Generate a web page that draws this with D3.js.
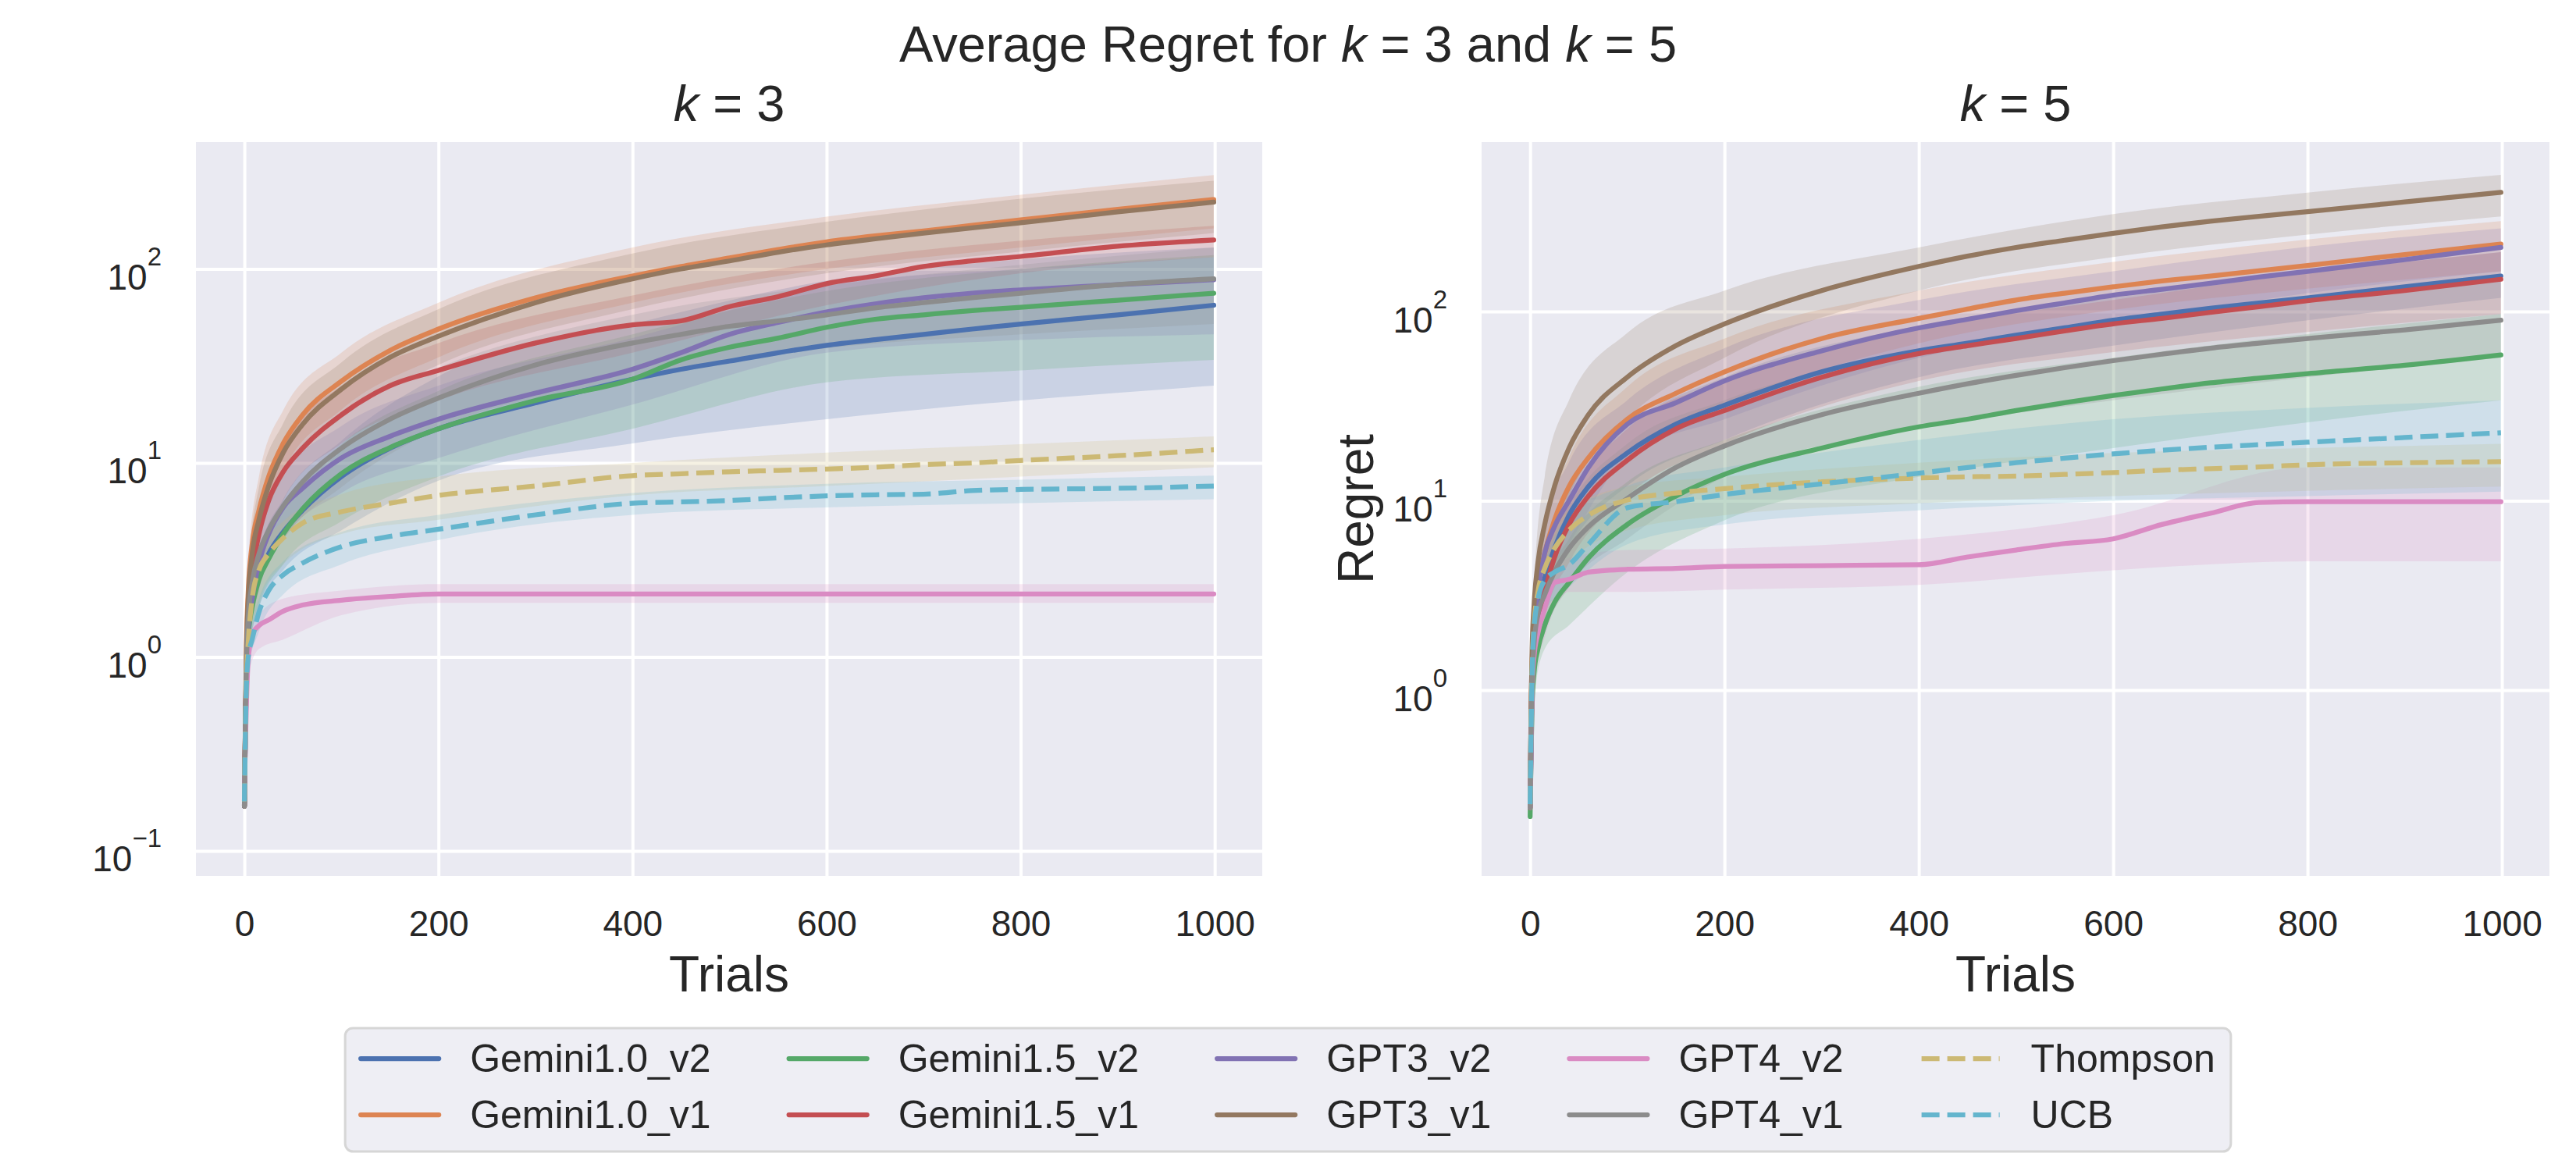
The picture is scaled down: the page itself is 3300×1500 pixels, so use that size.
<!DOCTYPE html>
<html>
<head>
<meta charset="utf-8">
<script src="https://cdn.jsdelivr.net/npm/d3@7/dist/d3.min.js"></script>
<style>
  body { margin: 0; background: #fff; }
  text { font-family: "Liberation Sans", Arial, sans-serif; fill: #262626; }
</style>
</head>
<body>
<div id="chart"></div>
<script>
// legend order = plotting order
const seriesNames = ['Gemini1.0_v2', 'Gemini1.0_v1', 'Gemini1.5_v2', 'Gemini1.5_v1', 'GPT3_v2',
  'GPT3_v1', 'GPT4_v2', 'GPT4_v1', 'Thompson', 'UCB']

const trials = [0, 1, 2, 4, 8, 15, 25, 40, 60, 100, 150, 200, 300, 400, 450, 500, 550, 600, 650, 700, 750, 800, 900, 999]
const bandTrials = [0, 4, 15, 40, 100, 200, 400, 600, 800, 999]
const xTicks = [0, 200, 400, 600, 800, 1000]
const k3YTicks = [0.1, 1, 10, 100]
const k5YTicks = [1, 10, 100]

// k = 3, mean regret per series (on trials)
const k3Means = [
  [0.17, 0.42, 0.74, 1.3, 1.9, 2.6, 3.4, 4.4, 5.7, 8.5, 11.9, 15, 20.4, 27, 30.4, 33.5, 37, 40.4, 43.2, 46, 49, 52, 58, 65],
  [0.18, 0.47, 1.1, 2.2, 3.8, 5.7, 8.5, 12.6, 17.7, 26.4, 38, 49, 71, 92, 103, 114, 126, 138, 148, 157, 168, 179, 203, 228],
  [0.17, 0.42, 0.74, 1.3, 1.8, 2.5, 3.2, 4.3, 5.8, 8.8, 12, 15, 21, 27, 34, 39.5, 44, 50, 55, 58, 61, 63.5, 69, 75],
  [0.17, 0.45, 0.85, 1.6, 2.7, 4.3, 6.4, 9, 11.9, 17.7, 25, 30, 41.5, 51.5, 54, 64, 72, 84, 92, 103, 110, 116, 131, 141],
  [0.17, 0.42, 0.8, 1.4, 2, 3.05, 4.3, 5.9, 7.4, 10.6, 13.7, 16.8, 22.9, 30.4, 37, 46, 53, 60, 66, 71, 75, 78, 83, 88],
  [0.17, 0.45, 1, 2, 3.4, 5.1, 7.6, 11.3, 15.8, 24, 35, 45, 67, 89, 100, 110, 122, 133, 143, 153, 163, 173, 197, 221],
  [0.19, 0.35, 0.55, 0.98, 1.3, 1.45, 1.55, 1.72, 1.85, 1.96, 2.05, 2.11, 2.11, 2.11, 2.11, 2.11, 2.11, 2.11, 2.11, 2.11, 2.11, 2.11, 2.11, 2.11],
  [0.17, 0.45, 0.85, 1.6, 2.4, 3.4, 4.5, 6, 8, 11.9, 16.8, 21.6, 32, 41.5, 46, 50.6, 54, 58, 63, 67, 71, 75, 83, 89],
  [0.18, 0.42, 0.75, 1.2, 2, 2.8, 3.4, 4.1, 4.9, 5.6, 6.2, 6.8, 7.6, 8.6, 8.8, 9, 9.15, 9.3, 9.5, 9.8, 10, 10.3, 10.9, 11.7],
  [0.18, 0.4, 0.7, 1, 1.23, 1.7, 2.2, 2.65, 3.05, 3.7, 4.18, 4.55, 5.4, 6.2, 6.3, 6.4, 6.6, 6.76, 6.85, 6.9, 7.2, 7.3, 7.4, 7.6],
]
// k = 3, band low / high (on bandTrials)
const k3Low = [
  [0.16, 1, 1.8, 2.8, 4.5, 8.1, 12.6, 16.8, 21, 25],
  [0.17, 1.7, 3.8, 9, 18.8, 35, 67, 100, 129, 162],
  [0.16, 1, 1.8, 3, 5, 8.5, 15, 26, 30, 34],
  [0.16, 1.1, 3.05, 6.4, 12.6, 21, 37, 65, 95, 115],
  [0.16, 1.1, 2.2, 4, 7, 10.6, 20, 37, 43, 46],
  [0.16, 1.5, 3.6, 8.5, 17, 32, 62, 95, 123, 153],
  [0.17, 0.8, 1.1, 1.23, 1.64, 1.9, 1.9, 1.9, 1.9, 1.9],
  [0.16, 1.2, 2.4, 4, 7.5, 15, 26.4, 39, 46, 52],
  [0.17, 1, 1.9, 3, 4.3, 5.1, 6.8, 7.6, 8.5, 9.5],
  [0.17, 0.85, 1.35, 2.1, 3, 4, 5.4, 5.9, 6.2, 6.5],
]
const k3High = [
  [0.18, 1.6, 3.4, 6.5, 13, 28, 52, 87, 112, 129],
  [0.2, 3.05, 8.5, 18.7, 37, 67, 129, 186, 241, 305],
  [0.18, 1.6, 3.3, 6, 12.5, 23.5, 46, 77, 100, 118],
  [0.18, 2.3, 6, 12.6, 25, 41.5, 73, 109, 140, 167],
  [0.18, 1.8, 4.2, 8.5, 15.5, 25, 44, 82, 100, 115],
  [0.2, 2.7, 7.5, 16, 33, 62, 120, 175, 230, 285],
  [0.21, 1.2, 1.65, 2, 2.2, 2.37, 2.37, 2.37, 2.37, 2.37],
  [0.18, 2.1, 4.8, 9, 18, 31, 58, 82, 105, 129],
  [0.19, 1.5, 3.3, 5, 6.9, 8.5, 10, 11.3, 12.5, 13.7],
  [0.19, 1.2, 2, 3.1, 4.4, 5.4, 7, 7.8, 8.2, 8.6],
]

// k = 5
const k5Means = [
  [0.25, 0.74, 1.23, 1.85, 2.8, 3.9, 5.6, 8.4, 11.9, 17.9, 25.4, 32, 48, 62, 68, 75, 82, 90, 97, 104, 111, 118, 135, 154],
  [0.25, 0.82, 1.38, 2.2, 3.5, 5.3, 7.9, 11.9, 16.9, 27, 37, 48, 72, 92, 103, 115, 125, 135, 145, 154, 164, 175, 200, 227],
  [0.215, 0.46, 0.82, 1.23, 1.65, 2.2, 2.9, 3.7, 5, 7.5, 10.6, 13.8, 19, 24.6, 27, 30, 33, 36, 39, 42, 44.5, 47, 52, 59],
  [0.24, 0.6, 1.03, 1.56, 2.3, 3.3, 5, 7.5, 10.6, 16.4, 24, 30, 45, 60, 66, 72, 79, 86, 92, 99, 106, 114, 129, 148],
  [0.24, 0.46, 1.1, 2.1, 3.3, 5.3, 7.3, 10, 15, 25.4, 33, 43, 62, 82, 91, 101, 111, 122, 131, 141, 152, 163, 188, 218],
  [0.24, 0.82, 1.65, 2.8, 4.7, 7.5, 11.9, 19, 28.5, 45, 66, 86, 129, 173, 196, 218, 238, 259, 280, 300, 318, 337, 379, 426],
  [0.24, 0.5, 0.98, 1.5, 2, 2.7, 3.7, 3.85, 4.2, 4.35, 4.4, 4.5, 4.55, 4.6, 5.05, 5.5, 5.95, 6.3, 7.5, 8.6, 9.8, 9.9, 9.9, 9.9],
  [0.24, 0.55, 1.1, 1.75, 2.5, 3.2, 4.2, 5.6, 7.3, 10.3, 15, 19.5, 28.5, 37, 41.5, 46, 50.5, 55, 59.5, 64, 68, 72, 80, 90],
  [0.25, 0.7, 1.3, 2.2, 3.3, 4.4, 5.6, 7, 8.4, 10.1, 11, 11.6, 12.6, 13.2, 13.4, 13.5, 13.8, 14.1, 14.5, 14.8, 15.1, 15.5, 15.9, 16.1],
  [0.25, 0.6, 1.2, 2.1, 3, 3.8, 4.2, 4.6, 5.9, 9.2, 9.9, 10.8, 12.3, 14, 15, 15.9, 16.8, 17.7, 18.5, 19.2, 19.8, 20.4, 21.6, 22.9],
]
const k5Low = [
  [0.23, 1.5, 2.9, 5.6, 12, 21, 45, 66, 90, 118],
  [0.23, 1.7, 3.5, 7.9, 18, 32, 68, 102, 132, 163],
  [0.2, 0.9, 1.65, 2.2, 4.2, 7.9, 13.4, 19, 26, 34],
  [0.22, 1.2, 2.4, 4.7, 10.6, 20, 43, 61, 78, 97],
  [0.22, 1.5, 3.5, 5.9, 17, 27, 57, 86, 125, 163],
  [0.22, 1.85, 4.7, 10.6, 27, 57, 129, 194, 255, 318],
  [0.22, 1.1, 1.9, 3.3, 3.3, 3.4, 3.6, 4.3, 4.8, 4.8],
  [0.22, 1.2, 2, 3.5, 6.3, 13.4, 24, 34, 45, 57],
  [0.23, 1.6, 3, 4.7, 7, 8.4, 9.7, 10.6, 11.3, 11.9],
  [0.23, 1.5, 2.6, 3.5, 5.9, 7.5, 8.9, 10, 10.6, 11.2],
]
const k5High = [
  [0.27, 2.3, 5.2, 12, 25, 45, 84, 118, 160, 206],
  [0.27, 2.8, 7.5, 17, 40, 72, 129, 183, 240, 300],
  [0.23, 1.6, 3.5, 6.3, 12.6, 21, 40, 57, 76, 97],
  [0.26, 2, 4.6, 10, 24, 43, 81, 115, 160, 206],
  [0.26, 2.8, 7.5, 16, 34, 64, 115, 163, 220, 275],
  [0.26, 3.5, 13.4, 34, 77, 129, 218, 327, 425, 527],
  [0.26, 2, 4, 5, 5.5, 5.6, 6.3, 8.4, 15, 15],
  [0.26, 2.4, 5, 9.4, 20, 34, 61, 86, 115, 145],
  [0.27, 3, 5.9, 8.9, 11.9, 13.4, 15.9, 17.9, 19, 20],
  [0.27, 2.8, 4.7, 8.4, 12, 15, 21, 27, 31, 34],
]

// styles
const palette = ['#4c72b0', '#dd8452', '#55a868', '#c44e52', '#8172b3', '#937860', '#da8bc3', '#8c8c8c', '#ccb974', '#64b5cd']
const dashedSeries = ['Thompson', 'UCB']
const lineWidth = 6.25
const dashPattern = '23,10'


class RegretPanel {
  constructor(svg, id, box, yDomain, yTicks) {
    this.svg = svg
    this.id = id
    this.box = box
    this.yTicks = yTicks
    this.x = d3.scaleLinear().domain([-49.95, 1048.95]).range([box.left, box.right])
    this.y = d3.scaleLog().domain(yDomain).range([box.bottom, box.top])
    this.g = svg.append('g')
  }

  drawFrame = (title, yLabel) => {
    const {left, right, top, bottom} = this.box
    const w = right - left
    const h = bottom - top

    this.g.append('rect')
      .attr('x', left).attr('y', top)
      .attr('width', w).attr('height', h)
      .attr('fill', '#eaeaf2')

    // vertical grid + x labels
    this.g.append('g')
      .attr('transform', `translate(0,${bottom})`)
      .call(d3.axisBottom(this.x).tickValues(xTicks).tickSize(-h).tickPadding(0).tickFormat(d3.format('d')))
      .call((a) => a.select('.domain').remove())
      .call((a) => a.selectAll('line').attr('stroke', '#fff').attr('stroke-width', 4))
      .call((a) => a.selectAll('text')
        .attr('y', 77).attr('dy', null)
        .attr('font-size', 46).attr('font-family', null).attr('fill', '#262626'))

    // horizontal grid + 10^n labels
    const yAxis = this.g.append('g')
      .attr('transform', `translate(${left},0)`)
      .call(d3.axisLeft(this.y).tickValues(this.yTicks).tickSize(-w).tickFormat(''))
      .call((a) => a.select('.domain').remove())
      .call((a) => a.selectAll('line').attr('stroke', '#fff').attr('stroke-width', 4))

    yAxis.selectAll('.tick').each(function(d) {
      const e = Math.round(Math.log10(d))
      const t = d3.select(this).append('text')
        .attr('x', -44).attr('y', 26)
        .attr('text-anchor', 'end')
        .attr('font-size', 46)
      t.append('tspan').text('10')
      t.append('tspan').attr('dy', -31).attr('font-size', 33)
        .text(e < 0 ? '\u2212' + (-e) : String(e))
    })

    // subplot title
    const tt = this.g.append('text')
      .attr('x', (left + right) / 2).attr('y', 155)
      .attr('text-anchor', 'middle')
      .attr('font-size', 65)
    tt.append('tspan').attr('font-style', 'italic').text('k')
    tt.append('tspan').text(' = ' + title)

    this.g.append('text')
      .attr('x', (left + right) / 2).attr('y', 1270)
      .attr('text-anchor', 'middle')
      .attr('font-size', 64)
      .text('Trials')

    if (yLabel) {
      this.g.append('text')
        .attr('transform', `translate(${left - 139},${(top + bottom) / 2}) rotate(-90)`)
        .attr('text-anchor', 'middle')
        .attr('font-size', 64)
        .text(yLabel)
    }

    this.g.append('clipPath').attr('id', 'clip-' + this.id)
      .append('rect')
        .attr('x', left).attr('y', top)
        .attr('width', w).attr('height', h)
  }

  drawSeries = (means, lows, highs) => {
    const plot = this.g.append('g').attr('clip-path', `url(#clip-${this.id})`)

    const area = d3.area()
      .x((d) => this.x(d.t))
      .y0((d) => this.y(d.lo))
      .y1((d) => this.y(d.hi))
      .curve(d3.curveMonotoneX)

    const line = d3.line()
      .x((d) => this.x(d.t))
      .y((d) => this.y(d.v))
      .curve(d3.curveMonotoneX)

    // bands go under every line
    seriesNames.forEach((name, i) => {
      const band = bandTrials.map((t, j) => ({t: t, lo: lows[i][j], hi: highs[i][j]}))
      plot.append('path')
        .datum(band)
        .attr('d', area)
        .attr('fill', palette[i])
        .attr('fill-opacity', 0.2)
    })

    seriesNames.forEach((name, i) => {
      const pts = trials.map((t, j) => ({t: t, v: means[i][j]}))
      const dashed = dashedSeries.includes(name)
      plot.append('path')
        .datum(pts)
        .attr('d', line)
        .attr('fill', 'none')
        .attr('stroke', palette[i])
        .attr('stroke-width', lineWidth)
        .attr('stroke-linecap', dashed ? 'butt' : 'round')
        .attr('stroke-linejoin', 'round')
        .attr('stroke-dasharray', dashed ? dashPattern : null)
    })
  }
}


const drawLegend = (svg) => {
  const fontSize = 50
  const handleLen = 100
  const handlePad = 40
  const colSpacing = 100
  const pad = 20
  const rowY = [1356, 1428]
  const ncol = 5
  const g = svg.append('g')

  const items = seriesNames.map((name, i) => {
    const item = g.append('g')
    const dashed = dashedSeries.includes(name)
    item.append('line')
      .attr('x1', 0).attr('x2', handleLen)
      .attr('y1', 0).attr('y2', 0)
      .attr('stroke', palette[i])
      .attr('stroke-width', lineWidth)
      .attr('stroke-linecap', dashed ? 'butt' : 'round')
      .attr('stroke-dasharray', dashed ? dashPattern : null)
    const label = item.append('text')
      .attr('x', handleLen + handlePad).attr('y', 17)
      .attr('font-size', fontSize)
      .text(name)
    return {item: item, w: label.node().getComputedTextLength()}
  })

  const colWidths = d3.range(ncol).map((c) =>
    handleLen + handlePad + d3.max([items[2 * c].w, items[2 * c + 1].w]))
  const total = d3.sum(colWidths) + colSpacing * (ncol - 1) + 2 * pad
  const left = 1650 - total / 2

  g.insert('rect', ':first-child')
    .attr('x', left).attr('y', 1317)
    .attr('width', total).attr('height', 158)
    .attr('rx', 10)
    .attr('fill', '#eeeef4')
    .attr('stroke', '#d6d6d6')
    .attr('stroke-width', 3)

  let cx = left + pad
  colWidths.forEach((cw, c) => {
    items[2 * c].item.attr('transform', `translate(${cx},${rowY[0]})`)
    items[2 * c + 1].item.attr('transform', `translate(${cx},${rowY[1]})`)
    cx += cw + colSpacing
  })
}


const svg = d3.select('#chart').append('svg')
  .attr('width', 3300)
  .attr('height', 1500)

const title = svg.append('text')
  .attr('x', 1650).attr('y', 79)
  .attr('text-anchor', 'middle')
  .attr('font-size', 65)
title.append('tspan').text('Average Regret for ')
title.append('tspan').attr('font-style', 'italic').text('k')
title.append('tspan').text(' = 3 and ')
title.append('tspan').attr('font-style', 'italic').text('k')
title.append('tspan').text(' = 5')

const k3Panel = new RegretPanel(svg, 'k3', {left: 251, right: 1617, top: 182, bottom: 1122},
  [Math.pow(10, -1.129), Math.pow(10, 2.654)], k3YTicks)
k3Panel.drawFrame('3', null)
k3Panel.drawSeries(k3Means, k3Low, k3High)

const k5Panel = new RegretPanel(svg, 'k5', {left: 1898, right: 3266, top: 182, bottom: 1122},
  [Math.pow(10, -0.981), Math.pow(10, 2.895)], k5YTicks)
k5Panel.drawFrame('5', 'Regret')
k5Panel.drawSeries(k5Means, k5Low, k5High)

drawLegend(svg)
</script>
</body>
</html>
